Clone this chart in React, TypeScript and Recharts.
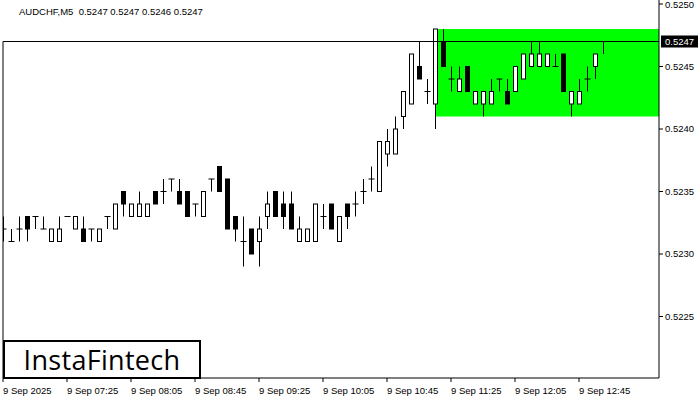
import { Bar, ComposedChart, ReferenceArea, ReferenceLine, XAxis, YAxis } from "recharts";

// AUDCHF M5, one bar every 5 minutes from 06:45
const opens = [
  0.5232, 0.5231, 0.5232, 0.5233, 0.5233, 0.5232, 0.5231, 0.5231, 0.5233, 0.5232,
  0.5232, 0.5232, 0.5231, 0.5233, 0.5232, 0.5235, 0.5233, 0.5233, 0.5233, 0.5235,
  0.5235, 0.5236, 0.5235, 0.5235, 0.5234, 0.5233, 0.5236, 0.5237, 0.5236, 0.5233,
  0.5231, 0.5232, 0.5231, 0.5233, 0.5235, 0.5234, 0.5234, 0.5231, 0.5231, 0.5231,
  0.5233, 0.5234, 0.5231, 0.5234, 0.5234, 0.5235, 0.5236, 0.5235, 0.5238, 0.5238,
  0.5241, 0.5242, 0.5245, 0.5243, 0.5242, 0.5247, 0.5244, 0.5243, 0.5245, 0.5242,
  0.5242, 0.5242, 0.5244, 0.5243, 0.5243, 0.5244, 0.5245, 0.5245, 0.5245, 0.5245,
  0.5246, 0.5242, 0.5242, 0.5244, 0.5245, 0.5247,
];
const highs = [
  0.5233, 0.5232, 0.5233, 0.5233, 0.5233, 0.5233, 0.5232, 0.5233, 0.5233, 0.5233,
  0.5233, 0.5232, 0.5232, 0.5233, 0.5234, 0.5235, 0.5234, 0.5235, 0.5234, 0.5235,
  0.5236, 0.5236, 0.5236, 0.5235, 0.5234, 0.5235, 0.5236, 0.5237, 0.5236, 0.5233,
  0.5233, 0.5232, 0.5233, 0.5235, 0.5235, 0.5235, 0.5235, 0.5233, 0.5232, 0.5234,
  0.5234, 0.5234, 0.5233, 0.5234, 0.5235, 0.5236, 0.5237, 0.5239, 0.524, 0.5241,
  0.5243, 0.5246, 0.5247, 0.5244, 0.5248, 0.5248, 0.5245, 0.5245, 0.5245, 0.5243,
  0.5243, 0.5244, 0.5244, 0.5244, 0.5245, 0.5246, 0.5247, 0.5247, 0.5246, 0.5246,
  0.5246, 0.5243, 0.5244, 0.5245, 0.5246, 0.5247,
];
const lows = [
  0.5231, 0.5231, 0.5231, 0.5231, 0.5232, 0.5232, 0.5231, 0.5231, 0.5233, 0.5232,
  0.5231, 0.5231, 0.5231, 0.5232, 0.5232, 0.5233, 0.5233, 0.5233, 0.5233, 0.5234,
  0.5234, 0.5235, 0.5234, 0.5233, 0.5233, 0.5233, 0.5235, 0.5235, 0.5232, 0.5231,
  0.5229, 0.523, 0.5229, 0.5232, 0.5233, 0.5232, 0.5232, 0.5231, 0.5231, 0.5231,
  0.5232, 0.5232, 0.5231, 0.5232, 0.5233, 0.5234, 0.5235, 0.5235, 0.5237, 0.5238,
  0.524, 0.5242, 0.5244, 0.5242, 0.524, 0.5245, 0.5243, 0.5243, 0.5243, 0.5242,
  0.5241, 0.5242, 0.5243, 0.5242, 0.5243, 0.5244, 0.5245, 0.5245, 0.5245, 0.5245,
  0.5243, 0.5241, 0.5242, 0.5243, 0.5244, 0.5246,
];
const closes = [
  0.5232, 0.5231, 0.5232, 0.5232, 0.5233, 0.5232, 0.5232, 0.5232, 0.5233, 0.5233,
  0.5231, 0.5232, 0.5232, 0.5233, 0.5234, 0.5234, 0.5234, 0.5234, 0.5234, 0.5234,
  0.5235, 0.5236, 0.5234, 0.5233, 0.5234, 0.5235, 0.5236, 0.5235, 0.5232, 0.5232,
  0.5231, 0.523, 0.5232, 0.5234, 0.5233, 0.5233, 0.5232, 0.5232, 0.5232, 0.5234,
  0.5233, 0.5232, 0.5233, 0.5233, 0.5234, 0.5235, 0.5236, 0.5239, 0.5239, 0.524,
  0.5243, 0.5246, 0.5244, 0.5243, 0.5248, 0.5245, 0.5244, 0.5244, 0.5243, 0.5243,
  0.5243, 0.5243, 0.5244, 0.5242, 0.5245, 0.5246, 0.5246, 0.5246, 0.5246, 0.5245,
  0.5243, 0.5243, 0.5243, 0.5244, 0.5246, 0.5247,
];

const timeTicks = [0, 8, 16, 24, 32, 40, 48, 56, 64, 72];
const timeLabels = [
  "9 Sep 2025", "9 Sep 07:25", "9 Sep 08:05", "9 Sep 08:45", "9 Sep 09:25",
  "9 Sep 10:05", "9 Sep 10:45", "9 Sep 11:25", "9 Sep 12:05", "9 Sep 12:45",
];
const priceTicks = [0.5225, 0.523, 0.5235, 0.524, 0.5245, 0.525];
const lastPrice = 0.5247;
const zoneStart = 54;
const zoneHigh = 0.5248;
const zoneLow = 0.5241;

const slots = 82;
const yMin = 0.522008;
const yMax = 0.525032;
const font = "'Liberation Sans', Arial, sans-serif";

const data = opens.map((open, i) => ({
  i, open, high: highs[i], low: lows[i], close: closes[i],
}));

const Candle = (props: any) => {
  const { x, y, width, height, payload } = props;
  const { open, high, low, close } = payload;
  const top = Math.min(y, y + height);
  const h = Math.abs(height);
  const cx = Math.round(x + width / 2) + 0.5;
  const span = high - low;
  const toY = (p: number) => (span === 0 ? top : top + ((high - p) / span) * h);
  const bodyTop = toY(Math.max(open, close));
  const bodyBottom = toY(Math.min(open, close));
  return (
    <g>
      {h > 0 && <line x1={cx} x2={cx} y1={top} y2={top + h} stroke="#000" strokeWidth={1}/>}
      {open === close
        ? <line x1={cx - 3} x2={cx + 3} y1={bodyTop} y2={bodyTop} stroke="#000" strokeWidth={1}/>
        : <rect x={cx - 2} y={bodyTop} width={4} height={bodyBottom - bodyTop}
                fill={close > open ? "#fff" : "#000"} stroke="#000" strokeWidth={1}/>}
    </g>
  );
};

const TimeTick = ({ x, y, payload }: any) => (
  <text x={x} y={y + 10} fontSize={9.5} fontFamily={font} fill="#000" textAnchor="start">
    {timeLabels[timeTicks.indexOf(payload.value)]}
  </text>
);

const PriceTag = ({ viewBox }: any) => {
  const right = viewBox.x + viewBox.width;
  return (
    <g>
      <rect x={right + 2} y={viewBox.y - 6} width={37} height={12} fill="#000"/>
      <text x={right + 6} y={viewBox.y + 3.5} fontSize={9.5} fontFamily={font} fill="#fff">
        {lastPrice.toFixed(4)}
      </text>
    </g>
  );
};

const App = () => (
  <div style={ { position: "absolute", left: 0, top: 0, width: 700, height: 400, background: "#fff" } }>
    <ComposedChart width={ 700 } height={ 400 } data={ data }
                   margin={ { top: 0, right: 0, left: 3, bottom: 0 } }>
      <XAxis dataKey="i" type="number" domain={ [0, slots] } ticks={ timeTicks } allowDataOverflow
             height={ 22 } tickSize={ 4 } axisLine={ { stroke: "#000" } } tickLine={ { stroke: "#000" } }
             tick={ <TimeTick/> } interval={ 0 }/>
      <YAxis orientation="right" type="number" domain={ [yMin, yMax] } ticks={ priceTicks } allowDataOverflow
             width={ 41 } tickSize={ 4 } tickMargin={ 2 } axisLine={ { stroke: "#000" } }
             tickLine={ { stroke: "#000" } } tickFormatter={ (v: number) => v.toFixed(4) }
             tick={ { fontSize: 9.5, fontFamily: font, fill: "#000" } }/>
      <ReferenceArea x1={ zoneStart } x2={ slots } y1={ zoneLow } y2={ zoneHigh } fill="#00ff00"
                     fillOpacity={ 1 } stroke="none" ifOverflow="hidden"/>
      <ReferenceLine y={ lastPrice } stroke="#000" strokeWidth={ 1 } label={ <PriceTag/> }/>
      <ReferenceLine segment={ [{ x: 0, y: lastPrice }, { x: 0, y: yMin }] } stroke="#000" strokeWidth={ 1 }/>
      <Bar dataKey={ (d: any) => [d.low, d.high] } barSize={ 5 } shape={ <Candle/> }
           isAnimationActive={ false }/>
    </ComposedChart>
    <div style={ { position: "absolute", left: 19, top: 6, fontSize: 9.5, fontFamily: font, whiteSpace: "pre" } }>
      AUDCHF,M5  0.5247 0.5247 0.5246 0.5247
    </div>
    <div style={ {
      position: "absolute", left: 3, top: 340, width: 198, height: 39, boxSizing: "border-box",
      border: "2px solid #000", background: "#fff", fontFamily: "'Open Sans', sans-serif", fontWeight: 400,
      fontSize: 27, lineHeight: "35px", textAlign: "center", color: "#000", letterSpacing: 0.3,
    } }>
      InstaFintech
    </div>
  </div>
);

export default App;
